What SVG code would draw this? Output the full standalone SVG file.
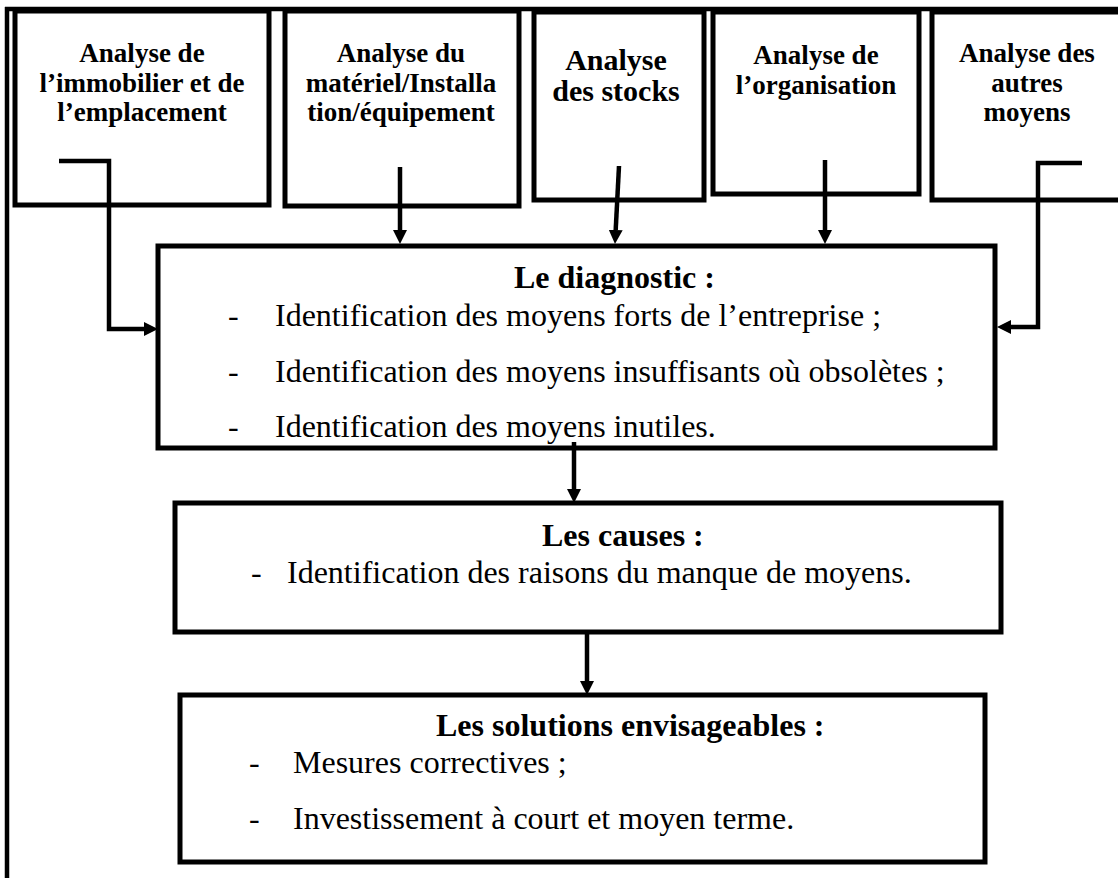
<svg xmlns="http://www.w3.org/2000/svg" width="1118" height="878" viewBox="0 0 1118 878">
  <style>
    .box { fill: #ffffff; stroke: #000000; stroke-width: 5; }
    .frame { fill: none; stroke: #000000; stroke-width: 4.5; }
    .link { fill: none; stroke: #000000; stroke-width: 4.5; }
    .head { font-family: "Liberation Serif", "Times New Roman", serif; font-weight: bold; font-size: 27px; fill: #000000; text-anchor: middle; }
    .title { font-family: "Liberation Serif", "Times New Roman", serif; font-weight: bold; font-size: 32px; fill: #000000; }
    .item { font-family: "Liberation Serif", "Times New Roman", serif; font-size: 32px; fill: #000000; }
  </style>
  <defs>
    <marker id="arrow" markerUnits="userSpaceOnUse" markerWidth="14" markerHeight="14" refX="0" refY="7" orient="auto">
      <path d="M0,0 L14,7 L0,14 Z" fill="#000000"/>
    </marker>
  </defs>

  <rect width="1118" height="878" fill="#ffffff"/>

  <!-- outer frame: top rule and left rule -->
  <g id="frame">
    <line class="frame" x1="5" y1="9" x2="1118" y2="9"/>
    <line class="frame" x1="7" y1="7" x2="7" y2="878"/>
  </g>

  <!-- analysis boxes along the top -->
  <g id="analyse-immobilier">
    <rect class="box" x="15" y="11" width="254" height="194"/>
    <text class="head" x="142" y="62">Analyse de</text>
    <text class="head" x="142" y="92">l’immobilier et de</text>
    <text class="head" x="142" y="121">l’emplacement</text>
  </g>

  <g id="analyse-materiel">
    <rect class="box" x="285" y="11" width="234" height="195"/>
    <text class="head" x="401" y="62">Analyse du</text>
    <text class="head" x="401" y="92">matériel/Installa</text>
    <text class="head" x="401" y="121">tion/équipement</text>
  </g>

  <g id="analyse-stocks">
    <rect class="box" x="534" y="12" width="170" height="188"/>
    <text class="head" x="616" y="70" style="font-size:30px">Analyse</text>
    <text class="head" x="616" y="101" style="font-size:30px">des stocks</text>
  </g>

  <g id="analyse-organisation">
    <rect class="box" x="713" y="12" width="206" height="182"/>
    <text class="head" x="816" y="64">Analyse de</text>
    <text class="head" x="816" y="94">l’organisation</text>
  </g>

  <g id="analyse-autres">
    <rect class="box" x="932" y="12" width="200" height="188"/>
    <text class="head" x="1027" y="62">Analyse des</text>
    <text class="head" x="1027" y="92">autres</text>
    <text class="head" x="1027" y="121">moyens</text>
  </g>

  <!-- diagnostic -->
  <g id="diagnostic">
    <rect class="box" x="158" y="246" width="837" height="202"/>
    <text class="title" x="514" y="288">Le diagnostic :</text>
    <text class="item" x="228" y="326">-</text>
    <text class="item" x="275" y="326">Identification des moyens forts de l’entreprise ;</text>
    <text class="item" x="228" y="382">-</text>
    <text class="item" x="275" y="382">Identification des moyens insuffisants où obsolètes ;</text>
    <text class="item" x="228" y="437">-</text>
    <text class="item" x="275" y="437">Identification des moyens inutiles.</text>
  </g>

  <!-- causes -->
  <g id="causes">
    <rect class="box" x="175" y="503" width="826" height="129"/>
    <text class="title" x="542" y="546">Les causes :</text>
    <text class="item" x="251" y="583">-</text>
    <text class="item" x="287" y="583">Identification des raisons du manque de moyens.</text>
  </g>

  <!-- solutions -->
  <g id="solutions">
    <rect class="box" x="180" y="695" width="805" height="167"/>
    <text class="title" x="436" y="736">Les solutions envisageables :</text>
    <text class="item" x="249" y="773">-</text>
    <text class="item" x="293" y="773">Mesures correctives ;</text>
    <text class="item" x="249" y="829">-</text>
    <text class="item" x="293" y="829">Investissement à court et moyen terme.</text>
  </g>

  <!-- connectors -->
  <g id="connectors">
    <polyline class="link" points="59,161 109,161 109,329 144,329" marker-end="url(#arrow)"/>
    <line class="link" x1="400" y1="167" x2="400" y2="230" marker-end="url(#arrow)"/>
    <line class="link" x1="619" y1="166" x2="615.7" y2="230" marker-end="url(#arrow)"/>
    <line class="link" x1="825" y1="160" x2="825" y2="230" marker-end="url(#arrow)"/>
    <polyline class="link" points="1082,163 1038,163 1038,327 1011,327" marker-end="url(#arrow)"/>
    <line class="link" x1="574" y1="442" x2="574" y2="489" marker-end="url(#arrow)"/>
    <line class="link" x1="587" y1="632" x2="587" y2="681" marker-end="url(#arrow)"/>
  </g>
</svg>
